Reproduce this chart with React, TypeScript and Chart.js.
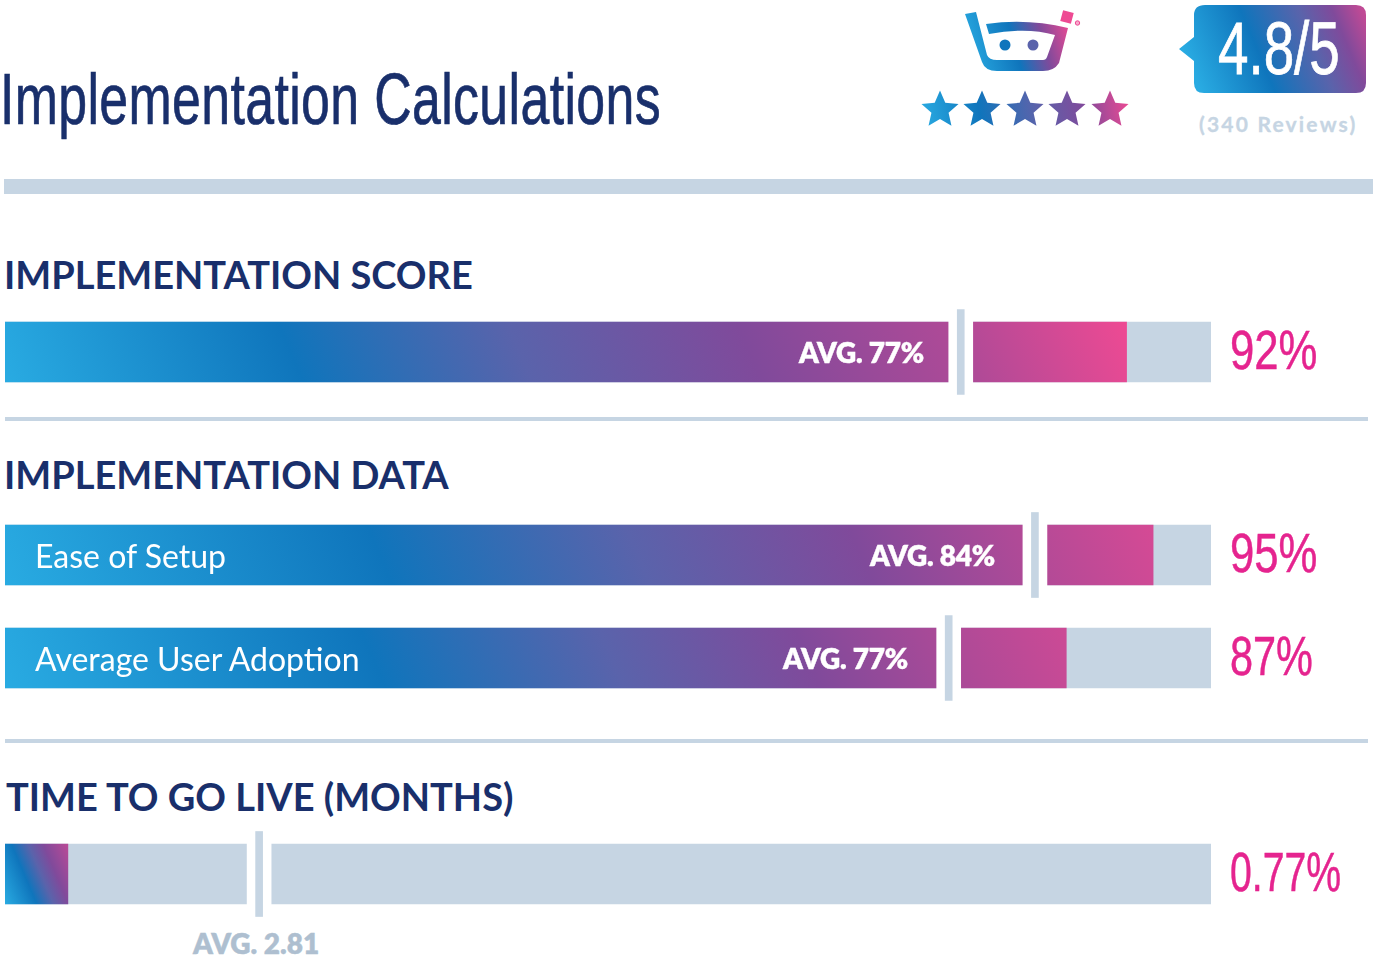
import React, { useEffect, useRef } from "react";
import { Chart, registerables } from "chart.js";

Chart.register(...registerables);

// Sections and the bars inside them
const rowLabels = ["", "Ease of Setup", "Average User Adoption", ""];
const avgLabels = ["AVG. 77%", "AVG. 84%", "AVG. 77%", "AVG. 2.81"];
const resultLabels = ["92%", "95%", "87%", "0.77%"];

// Values as measured along each track (the first three on 0-100, the last in months)
const axisMax = [100, 100, 100, 14];
const fillValues = [93, 95.2, 88, 0.73];
const avgValues = [79.25, 85.4, 78.25, 2.95];

const TRACK_LEFT = 5;
const TRACK_WIDTH = 1206;
const rowCenters = [352, 555, 658, 874];
const avgLabelRight = [924, 995, 908];
const resultScale = [0.78, 0.78, 0.74, 0.7];

const BRAND_COLORS = ["#29abe2", "#0f75bc", "#5a63ab", "#804a9b", "#b04a97", "#ee4a93"];
// where each brand colour falls along the fill, per bar
const gradientOffsets = [
  [0, 0.26, 0.46, 0.66, 0.85, 1],
  [0, 0.33, 0.55, 0.74, 0.88, 1.08],
  [0, 0.35, 0.57, 0.75, 0.9, 1.12],
  [0, 0.36, 0.55, 0.72, 0.95, 1.3],
];

const TRACK = "#c6d5e3";
const NAVY = "#192f6b";
const PINK = "#e5248f";
const CONDENSED = '"Liberation Sans", sans-serif';

const slantedGradient = (
  ctx: CanvasRenderingContext2D,
  x: number,
  y: number,
  w: number,
  h: number,
  offsets: number[]
) => {
  const angle = (23 * Math.PI) / 180;
  const cos = Math.cos(angle);
  const sin = Math.sin(angle);
  const length = w * cos + h * sin;
  const span = offsets[offsets.length - 1];
  const sx = x + w / 2 - (length / 2) * cos;
  const sy = y + h / 2 + (length / 2) * sin;
  const g = ctx.createLinearGradient(
    sx,
    sy,
    sx + length * span * cos,
    sy - length * span * sin
  );
  offsets.forEach((o, i) => g.addColorStop(o / span, BRAND_COLORS[i]));
  return g;
};

const BarRow: React.FC<{ index: number }> = ({ index }) => {
  const canvasRef = useRef<HTMLCanvasElement>(null);

  useEffect(() => {
    if (!canvasRef.current) return;
    const max = axisMax[index];
    const fill = fillValues[index];
    const avg = avgValues[index];
    const pxToValue = (px: number) => (px / TRACK_WIDTH) * max;

    const chart = new Chart(canvasRef.current, {
      type: "bar",
      data: {
        labels: [rowLabels[index] || "row"],
        datasets: [
          {
            // average tick
            data: [[avg - pxToValue(3.5), avg + pxToValue(3.5)]],
            backgroundColor: TRACK,
            barThickness: 85,
            order: 1,
            grouped: false,
          },
          {
            // white gap around the tick
            data: [[avg - pxToValue(12), avg + pxToValue(12)]],
            backgroundColor: "#ffffff",
            barThickness: 62,
            order: 2,
            grouped: false,
          },
          {
            data: [[0, fill]],
            backgroundColor: (c: any) => {
              const area = c.chart.chartArea;
              if (!area) return TRACK;
              const w = c.chart.scales.x.getPixelForValue(fill) - area.left;
              return slantedGradient(
                c.chart.ctx,
                area.left,
                area.top + (area.bottom - area.top - 60) / 2,
                w,
                60,
                gradientOffsets[index]
              );
            },
            barThickness: 60,
            order: 3,
            grouped: false,
          },
          {
            data: [[0, max]],
            backgroundColor: TRACK,
            barThickness: 60,
            order: 4,
            grouped: false,
          },
        ],
      },
      options: {
        indexAxis: "y",
        animation: false,
        responsive: false,
        maintainAspectRatio: false,
        layout: {
          padding: { left: TRACK_LEFT, right: 1376 - TRACK_LEFT - TRACK_WIDTH, top: 0, bottom: 0 },
        },
        plugins: { legend: { display: false }, tooltip: { enabled: false } },
        scales: {
          x: { display: false, min: 0, max },
          y: { display: false },
        },
      },
    });

    return () => chart.destroy();
  }, [index]);

  return (
    <canvas
      ref={canvasRef}
      width={1376}
      height={90}
      style={{
        position: "absolute",
        left: 0,
        top: rowCenters[index] - 45,
        width: 1376,
        height: 90,
      }}
    />
  );
};

const Heading = ({ text, left, top }: { text: string; left: number; top: number }) => (
  <div
    style={{
      position: "absolute",
      left,
      top,
      font: "700 38px Lato, sans-serif",
      lineHeight: "46px",
      color: NAVY,
      whiteSpace: "nowrap",
    }}
  >
    {text}
  </div>
);

const Star = ({ cx, cy }: { cx: number; cy: number }) => {
  const pts: string[] = [];
  for (let i = 0; i < 10; i++) {
    const r = i % 2 === 0 ? 19.5 : 9;
    const a = -Math.PI / 2 + (i * Math.PI) / 5;
    pts.push(`${cx + r * Math.cos(a)},${cy + r * Math.sin(a)}`);
  }
  return <polygon points={pts.join(" ")} fill="url(#brand)" />;
};

const Logo = () => (
  <svg width={1376} height={150} style={{ position: "absolute", left: 0, top: 0 }}>
    <defs>
      <linearGradient id="brand" gradientUnits="userSpaceOnUse" x1={922} y1={125} x2={1128} y2={90}>
        <stop offset="0" stopColor="#29abe2" />
        <stop offset="0.28" stopColor="#0f75bc" />
        <stop offset="0.55" stopColor="#5a63ab" />
        <stop offset="0.78" stopColor="#804a9b" />
        <stop offset="1" stopColor="#ee4a93" />
      </linearGradient>
      <linearGradient id="basket" gradientUnits="userSpaceOnUse" x1={968} y1={60} x2={1072} y2={30}>
        <stop offset="0" stopColor="#29abe2" />
        <stop offset="0.45" stopColor="#0f75bc" />
        <stop offset="0.72" stopColor="#804a9b" />
        <stop offset="1" stopColor="#ee4a93" />
      </linearGradient>
      <linearGradient id="badge" gradientUnits="userSpaceOnUse" x1={1200} y1={90} x2={1366} y2={20}>
        <stop offset="0" stopColor="#29abe2" />
        <stop offset="0.38" stopColor="#0f75bc" />
        <stop offset="0.68" stopColor="#5a63ab" />
        <stop offset="0.85" stopColor="#804a9b" />
        <stop offset="1" stopColor="#c04a95" />
      </linearGradient>
    </defs>
    {/* basket */}
    <path
      d="M965 14 L976 12 L987 55 Q989 60 997 60 L1043 60 Q1046 60 1047 57 L1055 35 Q1027 27 989 34 L986 24 Q1027 18 1068 28 L1059 63 Q1054 71 1043 71 L997 71 Q985 71 982 62 Z"
      fill="url(#basket)"
    />
    <circle cx={1005} cy={45} r={5.5} fill="#0f75bc" />
    <circle cx={1033} cy={45} r={5.5} fill="#5a63ab" />
    <rect x={1061.5} y={11.5} width={11} height={11} fill="#ee4a93" transform="rotate(15 1067 17)" />
    <circle cx={1077.5} cy={23} r={2.2} fill="#f7a8cc" stroke="#ee4a93" strokeWidth={1} />
    {[940, 982, 1025, 1067, 1110].map((cx) => (
      <Star key={cx} cx={cx} cy={110} />
    ))}
    {/* rating bubble */}
    <path
      d="M1205 5 H1356 Q1366 5 1366 15 V83 Q1366 93 1356 93 H1204 Q1194 93 1194 83 V61 L1179 49 L1194 37 V15 Q1194 5 1205 5 Z"
      fill="url(#badge)"
    />
  </svg>
);

const absText = (
  left: number | undefined,
  top: number,
  font: string,
  color: string,
  extra: React.CSSProperties = {}
): React.CSSProperties => ({
  position: "absolute",
  left,
  top,
  font,
  color,
  whiteSpace: "nowrap",
  ...extra,
});

export default function App() {
  return (
    <div
      style={{
        position: "absolute",
        left: 0,
        top: 0,
        width: 1376,
        height: 960,
        overflow: "hidden",
        background: "#fff",
      }}
    >
      <Logo />
      <div
        style={absText(0, 55, `400 72px/88px ${CONDENSED}`, NAVY, {
          transform: "scaleX(0.72)",
          transformOrigin: "left top",
          letterSpacing: 0.5,
          WebkitTextStroke: `0.7px ${NAVY}`,
        })}
      >
        Implementation Calculations
      </div>
      <div
        style={absText(1218, 9, `400 74px/80px ${CONDENSED}`, "#fff", {
          transform: "scaleX(0.74)",
          transformOrigin: "left top",
          WebkitTextStroke: "0.8px #fff",
        })}
      >
        4.8/5
      </div>
      <div
        style={absText(1199, 110, "700 21px/28px Lato, sans-serif", "#c6d5e3", {
          letterSpacing: 2.2,
          WebkitTextStroke: "0.3px #c6d5e3",
        })}
      >
        (340 Reviews)
      </div>

      <div style={{ position: "absolute", left: 4, top: 179, width: 1369, height: 15, background: TRACK }} />
      <div style={{ position: "absolute", left: 5, top: 417, width: 1363, height: 4, background: TRACK }} />
      <div style={{ position: "absolute", left: 5, top: 739, width: 1363, height: 4, background: TRACK }} />

      <Heading text="IMPLEMENTATION SCORE" left={4} top={251} />
      <Heading text="IMPLEMENTATION DATA" left={4} top={451} />
      <Heading text="TIME TO GO LIVE (MONTHS)" left={6} top={773} />

      {rowCenters.map((center, i) => (
        <React.Fragment key={i}>
          <BarRow index={i} />
          {rowLabels[i] && (
            <div style={absText(35, center - 19, "400 32px/40px Lato, sans-serif", "#fff")}>
              {rowLabels[i]}
            </div>
          )}
          {i < 3 ? (
            <div
              style={absText(
                avgLabelRight[i] - 200,
                center - 18,
                "800 28px/36px Lato, sans-serif",
                "#fff",
                { width: 200, textAlign: "right", letterSpacing: -0.2, WebkitTextStroke: "0.4px #fff" }
              )}
            >
              {avgLabels[i]}
            </div>
          ) : (
            <div
              style={absText(193, 925, "800 28px/36px Lato, sans-serif", "#aebfd0", {
                WebkitTextStroke: "0.4px #aebfd0",
              })}
            >
              {avgLabels[i]}
            </div>
          )}
          <div
            style={absText(1230, center - 37, `400 56px/70px ${CONDENSED}`, PINK, {
              transform: `scaleX(${resultScale[i]})`,
              transformOrigin: "left top",
              WebkitTextStroke: `0.5px ${PINK}`,
            })}
          >
            {resultLabels[i]}
          </div>
        </React.Fragment>
      ))}
    </div>
  );
}
